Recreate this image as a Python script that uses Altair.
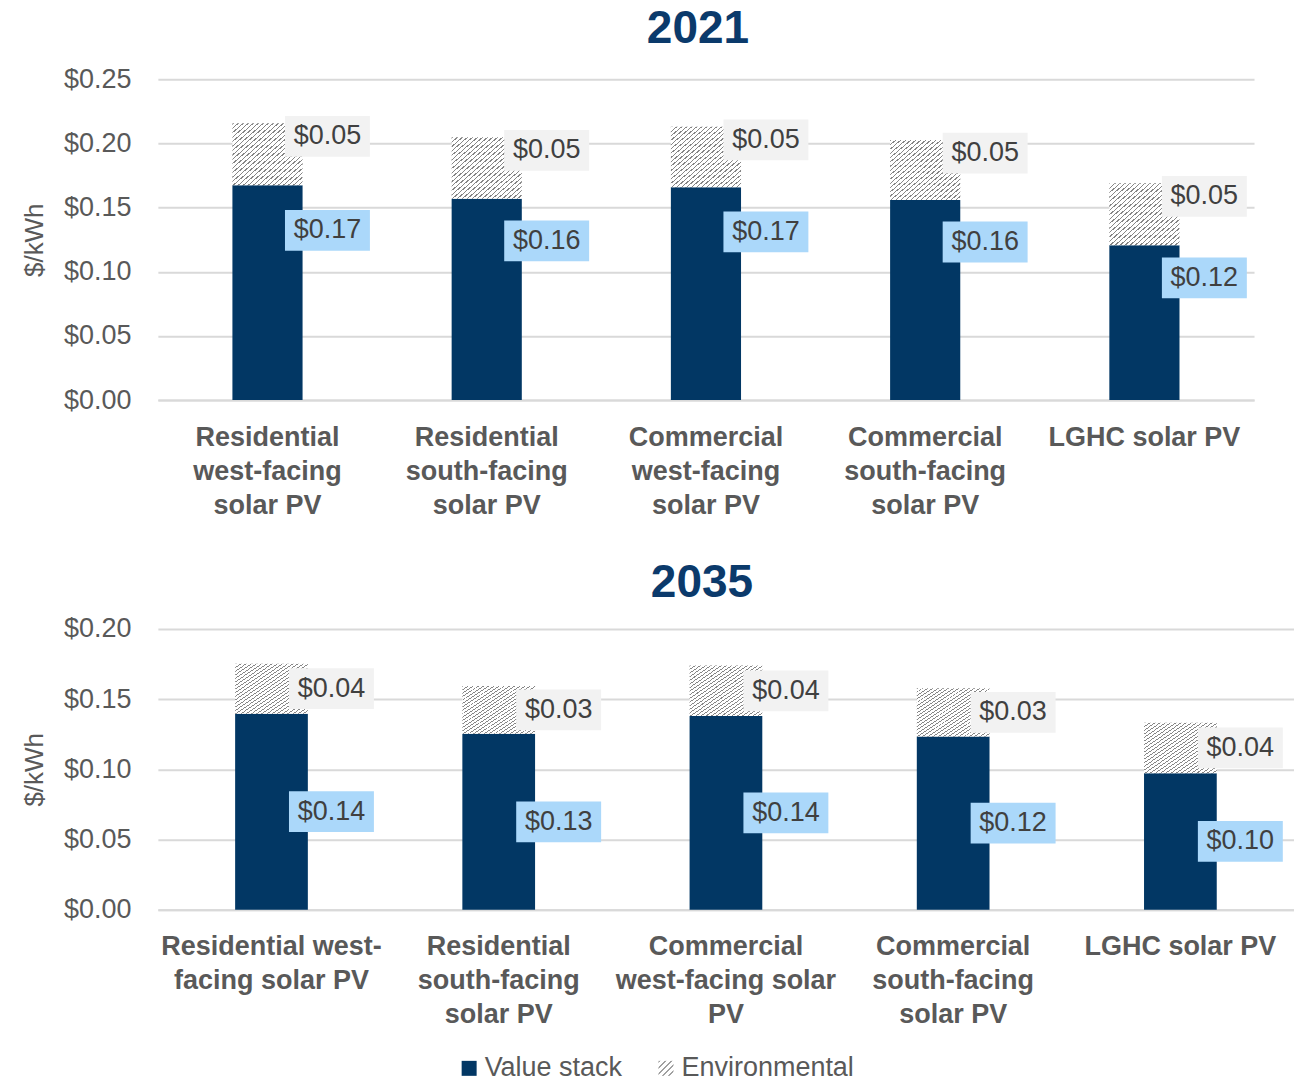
import altair as alt
import pandas as pd

# ---- data -------------------------------------------------------------
series_names = ["Value stack", "Environmental"]

categories_2021 = [
    "Residential|west-facing|solar PV",
    "Residential|south-facing|solar PV",
    "Commercial|west-facing|solar PV",
    "Commercial|south-facing|solar PV",
    "LGHC solar PV",
]
value_stack_2021 = [0.1674, 0.157, 0.166, 0.156, 0.1207]
environmental_2021 = [0.0483, 0.0478, 0.047, 0.0467, 0.0483]
y_ticks_2021 = [0.0, 0.05, 0.10, 0.15, 0.20, 0.25]

categories_2035 = [
    "Residential west-|facing solar PV",
    "Residential|south-facing|solar PV",
    "Commercial|west-facing solar|PV",
    "Commercial|south-facing|solar PV",
    "LGHC solar PV",
]
value_stack_2035 = [0.1396, 0.1253, 0.1379, 0.1234, 0.0972]
environmental_2035 = [0.0356, 0.0341, 0.0361, 0.0344, 0.036]
y_ticks_2035 = [0.0, 0.05, 0.10, 0.15, 0.20]

# ---- styling ----------------------------------------------------------
FONT = "Liberation Sans"
NAVY = "#023764"
TITLE_NAVY = "#0b3a6b"
GREY = "#595959"
LABEL_TEXT = "#404040"
VALUE_BOX = "#abd8fa"
ENV_BOX = "#f2f2f2"
GRID = "#d9d9d9"
LABEL_SIZE = 27
# rectangular label background drawn as a custom symbol (-1..1 unit box)
BOX_SHAPE = "M-1,-0.48L1,-0.48L1,0.48L-1,0.48Z"
BOX_SIZE = 85 * 85


def hatch_stops(n_stripes, duty=0.28, line="#868686", bg="#ffffff"):
    stops = []
    for i in range(n_stripes):
        a = round(i / n_stripes, 5)
        b = round((i + duty) / n_stripes, 5)
        c = round((i + 1) / n_stripes, 5)
        stops += [(a, line), (b, line), (b, bg), (c, bg)]
    return stops


def hatch_fill(n_stripes):
    """Diagonal hatching built from a hard-stop linear gradient."""
    stops = [alt.GradientStop(offset=o, color=c) for o, c in hatch_stops(n_stripes)]
    return alt.LinearGradient(gradient="linear", stops=stops, x1=0, y1=0, x2=1, y2=1)


def hatch_expr(n_stripes):
    """Same hatching written as a Vega expression (for the legend swatch)."""
    stops = ",".join("{offset:%s,color:'%s'}" % (o, c)
                     for o, c in hatch_stops(n_stripes, duty=0.3, line="#a0a0a0"))
    return "{gradient:'linear',x1:0,y1:0,x2:1,y2:1,stops:[%s]}" % stops


HATCH = hatch_fill(28)


def panel(year, cats, vals, envs, ticks, width, height,
          value_pos_expr, env_pos_expr, env_label_dy, title_dx, title_offset,
          with_legend):
    df = pd.DataFrame({"category": cats, "value": vals, "env": envs,
                       "series": series_names[0]})
    base = alt.Chart(df).transform_calculate(
        total="datum.value + datum.env",
        value_pos=value_pos_expr,
        env_pos=env_pos_expr,
    )

    x = alt.X(
        "category:N",
        sort=cats,
        scale=alt.Scale(paddingInner=0.68, paddingOuter=0.34),
        axis=alt.Axis(
            title=None,
            labelExpr="split(datum.label, '|')",
            labelAngle=0,
            labelFont=FONT,
            labelFontSize=LABEL_SIZE,
            labelFontWeight="bold",
            labelColor=GREY,
            labelLineHeight=34,
            labelBaseline="top",
            labelPadding=24,
            labelLimit=400,
            ticks=False,
            domain=True,
            domainColor=GRID,
            domainWidth=2,
            grid=False,
        ),
    )
    yscale = alt.Scale(domain=[ticks[0], ticks[-1]], nice=False, zero=True)
    yaxis = alt.Axis(
        values=ticks,
        format="$.2f",
        title="$/kWh",
        titleFont=FONT,
        titleFontSize=26,
        titleFontWeight="normal",
        titleColor=GREY,
        titlePadding=16,
        labelFont=FONT,
        labelFontSize=LABEL_SIZE,
        labelColor=GREY,
        labelPadding=27,
        ticks=False,
        domain=False,
        grid=True,
        gridColor=GRID,
        gridWidth=2,
    )

    def Y(field):
        return alt.Y(field, scale=yscale, axis=yaxis)

    if with_legend:
        color = alt.Color(
            "series:N",
            scale=alt.Scale(domain=series_names,
                            range=[NAVY, alt.ExprRef(hatch_expr(5))]),
            legend=alt.Legend(
                title=None,
                orient="none",
                legendX=298,
                legendY=976,
                direction="horizontal",
                symbolType="square",
                symbolSize=225,
                symbolStrokeWidth=0,
                symbolOpacity=1,
                labelFont=FONT,
                labelFontSize=LABEL_SIZE,
                labelColor=GREY,
                labelLimit=400,
                columnPadding=30,
                labelOffset=2,
            ),
        )
    else:
        color = alt.value(NAVY)

    bars = base.mark_bar().encode(x=x, y=Y("value:Q"), color=color)
    env_bars = base.mark_bar(color=HATCH).encode(x=x, y=Y("value:Q"), y2="total:Q")

    value_box = base.mark_point(
        shape=BOX_SHAPE, size=BOX_SIZE, filled=True, color=VALUE_BOX,
        opacity=1, strokeWidth=0, xOffset=60,
    ).encode(x=x, y=Y("value_pos:Q"))
    value_text = base.mark_text(
        font=FONT, fontSize=LABEL_SIZE, color=LABEL_TEXT, xOffset=60,
        baseline="middle", align="center",
    ).encode(x=x, y=Y("value_pos:Q"), text=alt.Text("value:Q", format="$.2f"))

    env_box = base.mark_point(
        shape=BOX_SHAPE, size=BOX_SIZE, filled=True, color=ENV_BOX,
        opacity=1, strokeWidth=0, xOffset=60, yOffset=env_label_dy,
    ).encode(x=x, y=Y("env_pos:Q"))
    env_text = base.mark_text(
        font=FONT, fontSize=LABEL_SIZE, color=LABEL_TEXT, xOffset=60,
        yOffset=env_label_dy, baseline="middle", align="center",
    ).encode(x=x, y=Y("env_pos:Q"), text=alt.Text("env:Q", format="$.2f"))

    return alt.layer(bars, env_bars, value_box, value_text, env_box, env_text).properties(
        width=width,
        height=height,
        title=alt.TitleParams(
            text=year,
            font=FONT,
            fontSize=46,
            fontWeight="bold",
            color=TITLE_NAVY,
            anchor="middle",
            offset=title_offset,
            dx=title_dx,
        ),
    )


top = panel("2021", categories_2021, value_stack_2021, environmental_2021,
            y_ticks_2021, 1097, 321,
            "datum.value * 0.79", "datum.total", 13, -8, 12, False)
bottom = panel("2035", categories_2035, value_stack_2035, environmental_2035,
               y_ticks_2035, 1137, 281,
               "datum.value / 2", "datum.value + datum.env / 2", 0, -24, 8, True)

chart = (
    alt.vconcat(top, bottom, spacing=42)
    .properties(padding={"left": 21, "top": 6, "right": 0, "bottom": 0})
    .configure_view(stroke=None)
)

chart.save("out.html", embed_options={"renderer": "svg", "actions": False})
